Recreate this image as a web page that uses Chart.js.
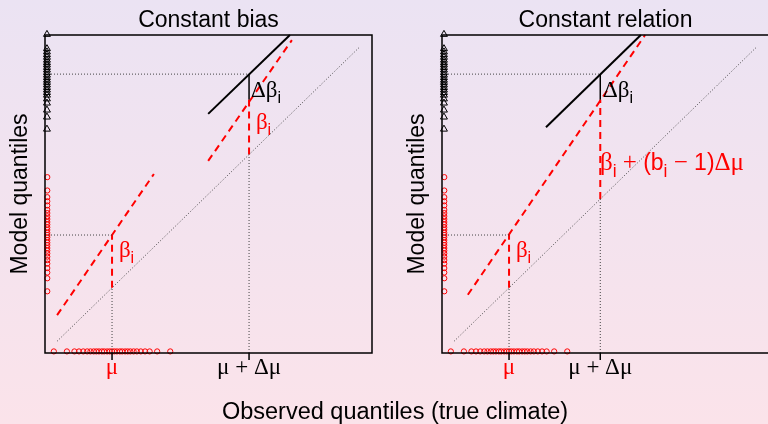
<!DOCTYPE html>
<html>
<head>
<meta charset="utf-8">
<script src="https://cdn.jsdelivr.net/npm/chart.js@4"></script>
<style>
html, body { margin: 0; padding: 0; width: 768px; height: 424px; overflow: hidden;
  background: linear-gradient(to bottom, #ebe3f3, #fbe3ea); }
canvas { position: absolute; left: 0; top: 0; }
</style>
</head>
<body>
<canvas id="biasChart" width="768" height="424"></canvas>
<canvas id="relChart" width="800" height="424"></canvas>
<script>
// quantiles (axis units 0..1)
const obsRug = [0.027, 0.067, 0.090, 0.104, 0.117, 0.129, 0.139, 0.149, 0.157, 0.165, 0.174, 0.181, 0.190, 0.198, 0.205,
  0.212, 0.220, 0.229, 0.236, 0.245, 0.253, 0.261, 0.271, 0.281, 0.293, 0.306, 0.320, 0.343, 0.383];
const modelRug = [0.194, 0.235, 0.253, 0.267, 0.281, 0.292, 0.303, 0.313, 0.322, 0.330, 0.339, 0.347, 0.355, 0.364, 0.371,
  0.378, 0.387, 0.395, 0.404, 0.412, 0.421, 0.430, 0.440, 0.450, 0.464, 0.477, 0.490, 0.511, 0.553];
const futureRug = [0.704, 0.742, 0.764, 0.786, 0.799, 0.811, 0.819, 0.827, 0.835, 0.843, 0.851, 0.858, 0.866, 0.874,
  0.882, 0.890, 0.898, 0.906, 0.913, 0.921, 0.930, 0.938, 0.947, 0.957, 1.002];

const mu = 0.205;
const shiftBias = 0.624;      // mu + dmu, constant bias panel
const shiftRel = 0.484;       // mu + dmu, constant relation panel
const modelAtMu = 0.371;
const modelAtShift = 0.796;
const futureAtShift = 0.877;

// line end points [x, y]
const identityLine = [[0.037, 0.037], [0.960, 0.960]];
const biasModelLow = [[0.037, 0.119], [0.333, 0.563]];
const biasModelHigh = [[0.499, 0.604], [0.755, 0.984]];
const biasFuture = [[0.499, 0.752], [0.749, 1.0]];
const relModel = [[0.079, 0.183], [0.621, 1.0]];
const relFuture = [[0.318, 0.710], [0.608, 1.0]];

const RED = '#ff0000';
const DOT = '#444444';
const SERIF = '"Liberation Serif"';
const SANS = '"Liberation Sans"';

function pts(arr) { return arr.map(p => ({x: p[0], y: p[1]})); }

function seg(points, color, dash, width) {
  return {
    type: 'scatter', data: pts(points), showLine: true, pointRadius: 0,
    borderColor: color, borderWidth: width, borderDash: dash, clip: false
  };
}

function rugs() {
  return [
    {type: 'scatter', data: obsRug.map(v => ({x: v, y: 0.005})), pointStyle: 'circle', pointRadius: 2.6,
      borderColor: RED, backgroundColor: 'rgba(0,0,0,0)', borderWidth: 1, clip: false},
    {type: 'scatter', data: modelRug.map(v => ({x: 0.007, y: v})), pointStyle: 'circle', pointRadius: 2.6,
      borderColor: RED, backgroundColor: 'rgba(0,0,0,0)', borderWidth: 1, clip: false},
    {type: 'scatter', data: futureRug.map(v => ({x: 0.006, y: v})), pointStyle: 'triangle', pointRadius: 4,
      borderColor: '#000', backgroundColor: 'rgba(0,0,0,0)', borderWidth: 1, clip: false}
  ];
}

function panelLines(shift, modelSegs, future) {
  const ds = [
    seg(identityLine, DOT, [1, 2], 1),
    seg([[mu, 0], [mu, mu]], DOT, [1, 2], 1),
    seg([[0, modelAtMu], [mu, modelAtMu]], DOT, [1, 2], 1),
    seg([[shift, 0], [shift, shift]], DOT, [1, 2], 1),
    seg([[0, futureAtShift], [shift, futureAtShift]], DOT, [1, 2], 1),
    seg([[mu, mu], [mu, modelAtMu]], RED, [7, 5], 2),
    seg([[shift, shift], [shift, modelAtShift]], RED, [7, 5], 2),
    seg([[shift, modelAtShift], [shift, futureAtShift]], '#000', [], 1.5),
    seg(future, '#000', [], 2)
  ];
  modelSegs.forEach(s => ds.push(seg(s, RED, [7, 5], 2)));
  return ds.concat(rugs());
}

// parts: [text, 'g' greek/symbol | 's' sans | 'i' sans subscript]
function drawRich(ctx, px, py, parts, color, size) {
  ctx.fillStyle = color;
  ctx.textAlign = 'left';
  let cx = px;
  parts.forEach(([t, kind]) => {
    let fs = size, dy = 0, fam = SERIF;
    if (kind === 's') { fs = size * 0.92; fam = SANS; }
    if (kind === 'i') { fs = size * 0.7; fam = SANS; dy = size * 0.28; }
    ctx.font = fs + 'px ' + fam;
    ctx.fillText(t, cx, py + dy);
    cx += ctx.measureText(t).width;
  });
}

const panelDecor = {
  id: 'panelDecor',
  afterDatasetsDraw(chart, args, opts) {
    const {ctx, chartArea: a, scales: {x, y}} = chart;
    ctx.save();
    ctx.strokeStyle = '#000';
    ctx.lineWidth = 1.5;
    ctx.setLineDash([]);
    ctx.strokeRect(a.left, a.top, a.right - a.left, a.bottom - a.top);

    ctx.textBaseline = 'alphabetic';
    opts.ticks.forEach(t => {
      const px = x.getPixelForValue(t.value);
      ctx.beginPath();
      ctx.moveTo(px, a.bottom);
      ctx.lineTo(px, a.bottom + 7);
      ctx.stroke();
      ctx.font = '23px ' + SERIF;
      ctx.textAlign = 'left';
      const w = ctx.measureText(t.label).width;
      drawRich(ctx, px - w / 2, a.bottom + 21, [[t.label, 'g']], t.color, 23);
    });

    ctx.fillStyle = '#000';
    ctx.textAlign = 'center';
    ctx.font = '23px ' + SANS;
    ctx.fillText(opts.title, (a.left + a.right) / 2, a.top - 8);

    ctx.save();
    ctx.translate(a.left - 18, (a.top + a.bottom) / 2);
    ctx.rotate(-Math.PI / 2);
    ctx.fillText('Model quantiles', 0, 0);
    ctx.restore();

    if (opts.xTitle) {
      ctx.font = '23.5px ' + SANS;
      ctx.fillText(opts.xTitle, 395, 419);
    }

    opts.notes.forEach(n => drawRich(ctx, x.getPixelForValue(n.x), y.getPixelForValue(n.y), n.parts, n.color, n.size));
    ctx.restore();
  }
};

function makeChart(id, datasets, padding, decor) {
  return new Chart(document.getElementById(id), {
    data: {datasets: datasets},
    options: {
      responsive: false,
      animation: false,
      layout: {padding: padding},
      scales: {
        x: {type: 'linear', min: 0, max: 1, display: false},
        y: {type: 'linear', min: 0, max: 1, display: false}
      },
      plugins: {legend: {display: false}, tooltip: {enabled: false}, panelDecor: decor}
    },
    plugins: [panelDecor]
  });
}

makeChart('biasChart', panelLines(shiftBias, [biasModelLow, biasModelHigh], biasFuture),
  {left: 45, top: 35, right: 396, bottom: 71},
  {
    title: 'Constant bias',
    xTitle: 'Observed quantiles (true climate)',
    ticks: [{value: mu, label: 'μ', color: RED}, {value: shiftBias, label: 'μ + Δμ', color: '#000'}],
    notes: [
      {x: 0.630, y: 0.805, color: '#000', size: 23, parts: [['Δβ', 'g'], ['i', 'i']]},
      {x: 0.645, y: 0.705, color: RED, size: 23, parts: [['β', 'g'], ['i', 'i']]},
      {x: 0.226, y: 0.303, color: RED, size: 23, parts: [['β', 'g'], ['i', 'i']]}
    ]
  });

makeChart('relChart', panelLines(shiftRel, [relModel], relFuture),
  {left: 442, top: 35, right: 31, bottom: 71},
  {
    title: 'Constant relation',
    ticks: [{value: mu, label: 'μ', color: RED}, {value: shiftRel, label: 'μ + Δμ', color: '#000'}],
    notes: [
      {x: 0.492, y: 0.805, color: '#000', size: 23, parts: [['Δβ', 'g'], ['i', 'i']]},
      {x: 0.483, y: 0.575, color: RED, size: 25,
        parts: [['β', 'g'], ['i', 'i'], [' + ', 'g'], ['(b', 's'], ['i', 'i'], [' − ', 'g'], ['1)', 's'], ['Δμ', 'g']]},
      {x: 0.226, y: 0.303, color: RED, size: 23, parts: [['β', 'g'], ['i', 'i']]}
    ]
  });
</script>
</body>
</html>
